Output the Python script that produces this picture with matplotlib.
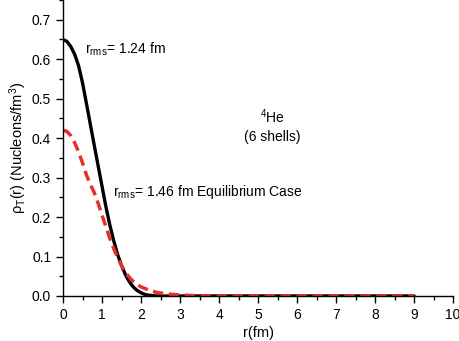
import matplotlib
matplotlib.use("Agg")
import matplotlib.pyplot as plt
from matplotlib.ticker import MultipleLocator

plt.rcParams['font.family'] = ['Liberation Sans', 'DejaVu Sans']
plt.rcParams['mathtext.fontset'] = 'custom'
plt.rcParams['mathtext.rm'] = 'Liberation Sans'
plt.rcParams['mathtext.it'] = 'Liberation Sans:italic'
plt.rcParams['mathtext.default'] = 'regular'

# Black solid curve: r_rms = 1.24 fm
r_black = [0.0, 0.1, 0.2, 0.3, 0.4, 0.5, 0.6, 0.7, 0.8, 0.9, 1.0, 1.1, 1.2, 1.3,
           1.4, 1.5, 1.6, 1.7, 1.8, 1.9, 2.0, 2.1, 2.2, 2.3, 2.4, 3.0, 9.0]
rho_black = [0.650, 0.645, 0.632, 0.612, 0.583, 0.540, 0.488, 0.435, 0.382, 0.330,
             0.278, 0.226, 0.180, 0.140, 0.105, 0.077, 0.054, 0.036, 0.023, 0.014,
             0.008, 0.004, 0.002, 0.001, 0.0, 0.0, 0.0]

# Red dashed curve: r_rms = 1.46 fm equilibrium case
r_red = [0.0, 0.1, 0.2, 0.3, 0.4, 0.5, 0.6, 0.7, 0.8, 0.9, 1.0, 1.1, 1.2, 1.3,
         1.4, 1.5, 1.6, 1.7, 1.8, 1.9, 2.0, 2.2, 2.4, 2.6, 2.8, 3.0, 3.3, 3.6,
         4.0, 9.0]
rho_red = [0.420, 0.417, 0.406, 0.388, 0.365, 0.337, 0.307, 0.283, 0.262, 0.235,
           0.205, 0.175, 0.146, 0.120, 0.097, 0.077, 0.060, 0.047, 0.037, 0.029,
           0.023, 0.015, 0.009, 0.006, 0.004, 0.0025, 0.0012, 0.0005, 0.0, 0.0]

fig = plt.figure(figsize=(4.6, 3.41), dpi=100)
ax = fig.add_axes([0.137, 0.132, 0.848, 0.868])

ax.plot(r_black, rho_black, color='black', lw=2.4, solid_capstyle='round')
ax.plot(r_red, rho_red, color='#e8302a', lw=2.5, linestyle=(0, (3.0, 1.6)))

ax.set_xlim(0, 10)
ax.set_ylim(0, 0.75)
ax.xaxis.set_major_locator(MultipleLocator(1))
ax.xaxis.set_minor_locator(MultipleLocator(0.5))
ax.yaxis.set_minor_locator(MultipleLocator(0.05))
ax.set_yticks([0, 0.1, 0.2, 0.3, 0.4, 0.5, 0.6, 0.7])
ax.set_yticklabels(['0.0', '0.1', '0.2', '0.3', '0.4', '0.5', '0.6', '0.7'])

for s in ['top', 'right']:
    ax.spines[s].set_visible(False)
for s in ['left', 'bottom']:
    ax.spines[s].set_linewidth(1.0)

ax.tick_params(which='major', direction='out', length=5, width=1.0, labelsize=10)
ax.tick_params(which='minor', direction='out', length=3, width=1.0)

ax.set_xlabel('r(fm)', fontsize=10.5, labelpad=3)
ax.set_ylabel('ρ$_T$(r) (Nucleons/fm$^3$)', fontsize=10.5, labelpad=2)

ax.text(0.56, 0.614, 'r$_{rms}$= 1.24 fm', fontsize=10, va='baseline', ha='left')
ax.text(1.29, 0.254, 'r$_{rms}$= 1.46 fm Equilibrium Case', fontsize=10,
        va='baseline', ha='left')
ax.text(5.36, 0.439, '$^4$He', fontsize=10, va='baseline', ha='center')
ax.text(5.36, 0.393, '(6 shells)', fontsize=10, va='baseline', ha='center')

fig.savefig('out.png', dpi=100)
